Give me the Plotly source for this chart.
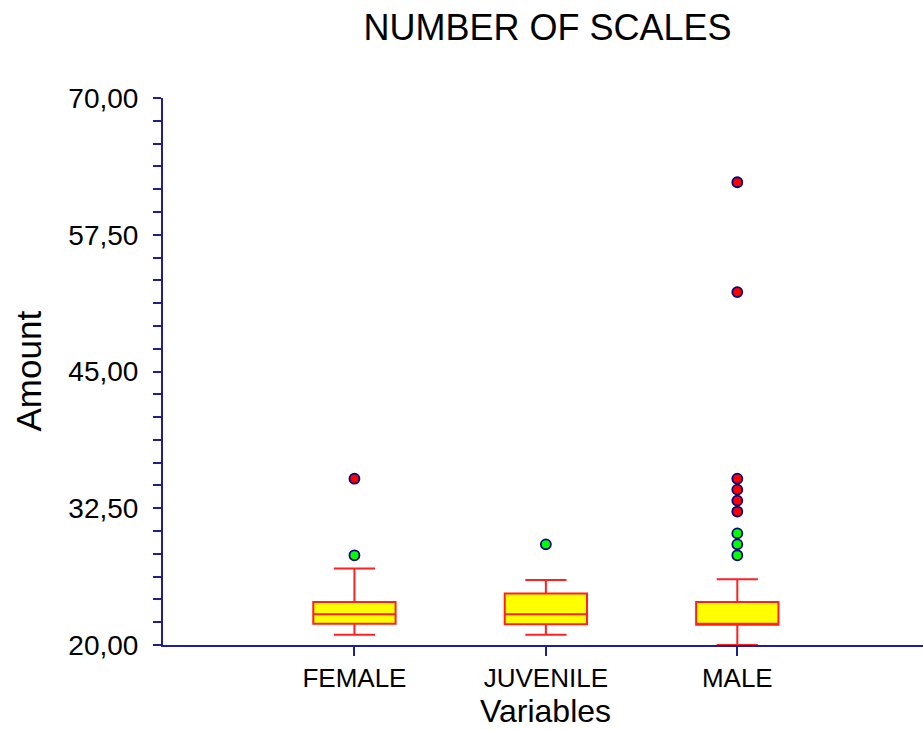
import plotly.graph_objects as go

categories = ["FEMALE", "JUVENILE", "MALE"]
q1 = [21.95, 21.9, 21.86]
median = [22.8, 22.8, 21.86]
q3 = [23.94, 24.7, 23.94]
lower_whisker = [20.94, 20.94, 20.0]
upper_whisker = [27.0, 25.95, 26.0]

near_x = ["FEMALE", "JUVENILE", "MALE", "MALE", "MALE"]
near_y = [28.2, 29.2, 28.2, 29.2, 30.2]
far_x = ["FEMALE", "MALE", "MALE", "MALE", "MALE", "MALE", "MALE"]
far_y = [35.2, 32.2, 33.2, 34.2, 35.2, 52.26, 62.3]

ytick_vals = [20, 32.5, 45, 57.5, 70]
ytick_text = ["20,00", "32,50", "45,00", "57,50", "70,00"]

AXIS = "#1f1f8f"
FONT = "Liberation Sans, Arial, sans-serif"

fig = go.Figure()
for i, c in enumerate(categories):
    fig.add_trace(go.Box(
        x=[c], q1=[q1[i]], median=[median[i]], q3=[q3[i]],
        lowerfence=[lower_whisker[i]], upperfence=[upper_whisker[i]],
        boxpoints=False, width=0.43, whiskerwidth=0.5,
        fillcolor="#ffff00", line=dict(color="#ff2020", width=2),
        showlegend=False, hoverinfo="skip",
    ))

fig.add_trace(go.Scatter(
    x=near_x, y=near_y, mode="markers", showlegend=False,
    marker=dict(color="#00ff00", size=10, line=dict(color="#000080", width=1.8)),
))
fig.add_trace(go.Scatter(
    x=far_x, y=far_y, mode="markers", showlegend=False,
    marker=dict(color="#ff0000", size=10, line=dict(color="#000080", width=1.8)),
))

fig.update_layout(
    width=923, height=730,
    margin=dict(l=163, r=0, t=98, b=85),
    plot_bgcolor="white", paper_bgcolor="white",
    font=dict(family=FONT, color="black"),
    title=dict(text="NUMBER OF SCALES", x=547.5 / 923, xanchor="center",
               y=1 - 27 / 730, yanchor="middle",
               font=dict(size=36, family=FONT, color="black")),
    xaxis=dict(
        type="category", categoryorder="array", categoryarray=categories,
        range=[-1.0, 2.97], showgrid=False, zeroline=False,
        showline=True, linecolor=AXIS, linewidth=2,
        ticks="outside", ticklen=9, tickcolor=AXIS, tickwidth=1.5,
        tickfont=dict(size=26, family=FONT, color="black"),
        ticklabelstandoff=0,
    ),
    yaxis=dict(
        range=[20, 70], showgrid=False, zeroline=False,
        showline=True, linecolor=AXIS, linewidth=2,
        tickmode="array", tickvals=ytick_vals, ticktext=ytick_text,
        ticks="outside", ticklen=8, tickcolor=AXIS, tickwidth=1.5,
        tickfont=dict(size=28, family=FONT, color="black"),
        ticklabelstandoff=9,
        minor=dict(dtick=12.5 / 6, tick0=20, ticks="outside", ticklen=8,
                   tickcolor=AXIS, tickwidth=1.5, showgrid=False),
    ),
    annotations=[
        dict(text="Amount", xref="paper", yref="paper",
             x=(28 - 163) / 760, y=0.5, xanchor="center", yanchor="middle",
             textangle=-90, showarrow=False,
             font=dict(size=35, family=FONT, color="black")),
        dict(text="Variables", xref="paper", yref="paper",
             x=(545 - 163) / 760, y=(645 - 711) / 547, xanchor="center",
             yanchor="middle", showarrow=False,
             font=dict(size=32, family=FONT, color="black")),
    ],
)

fig.write_html("out.html", config={"displayModeBar": False},
               post_script="document.body.style.margin='0px';document.body.style.overflow='hidden';")
